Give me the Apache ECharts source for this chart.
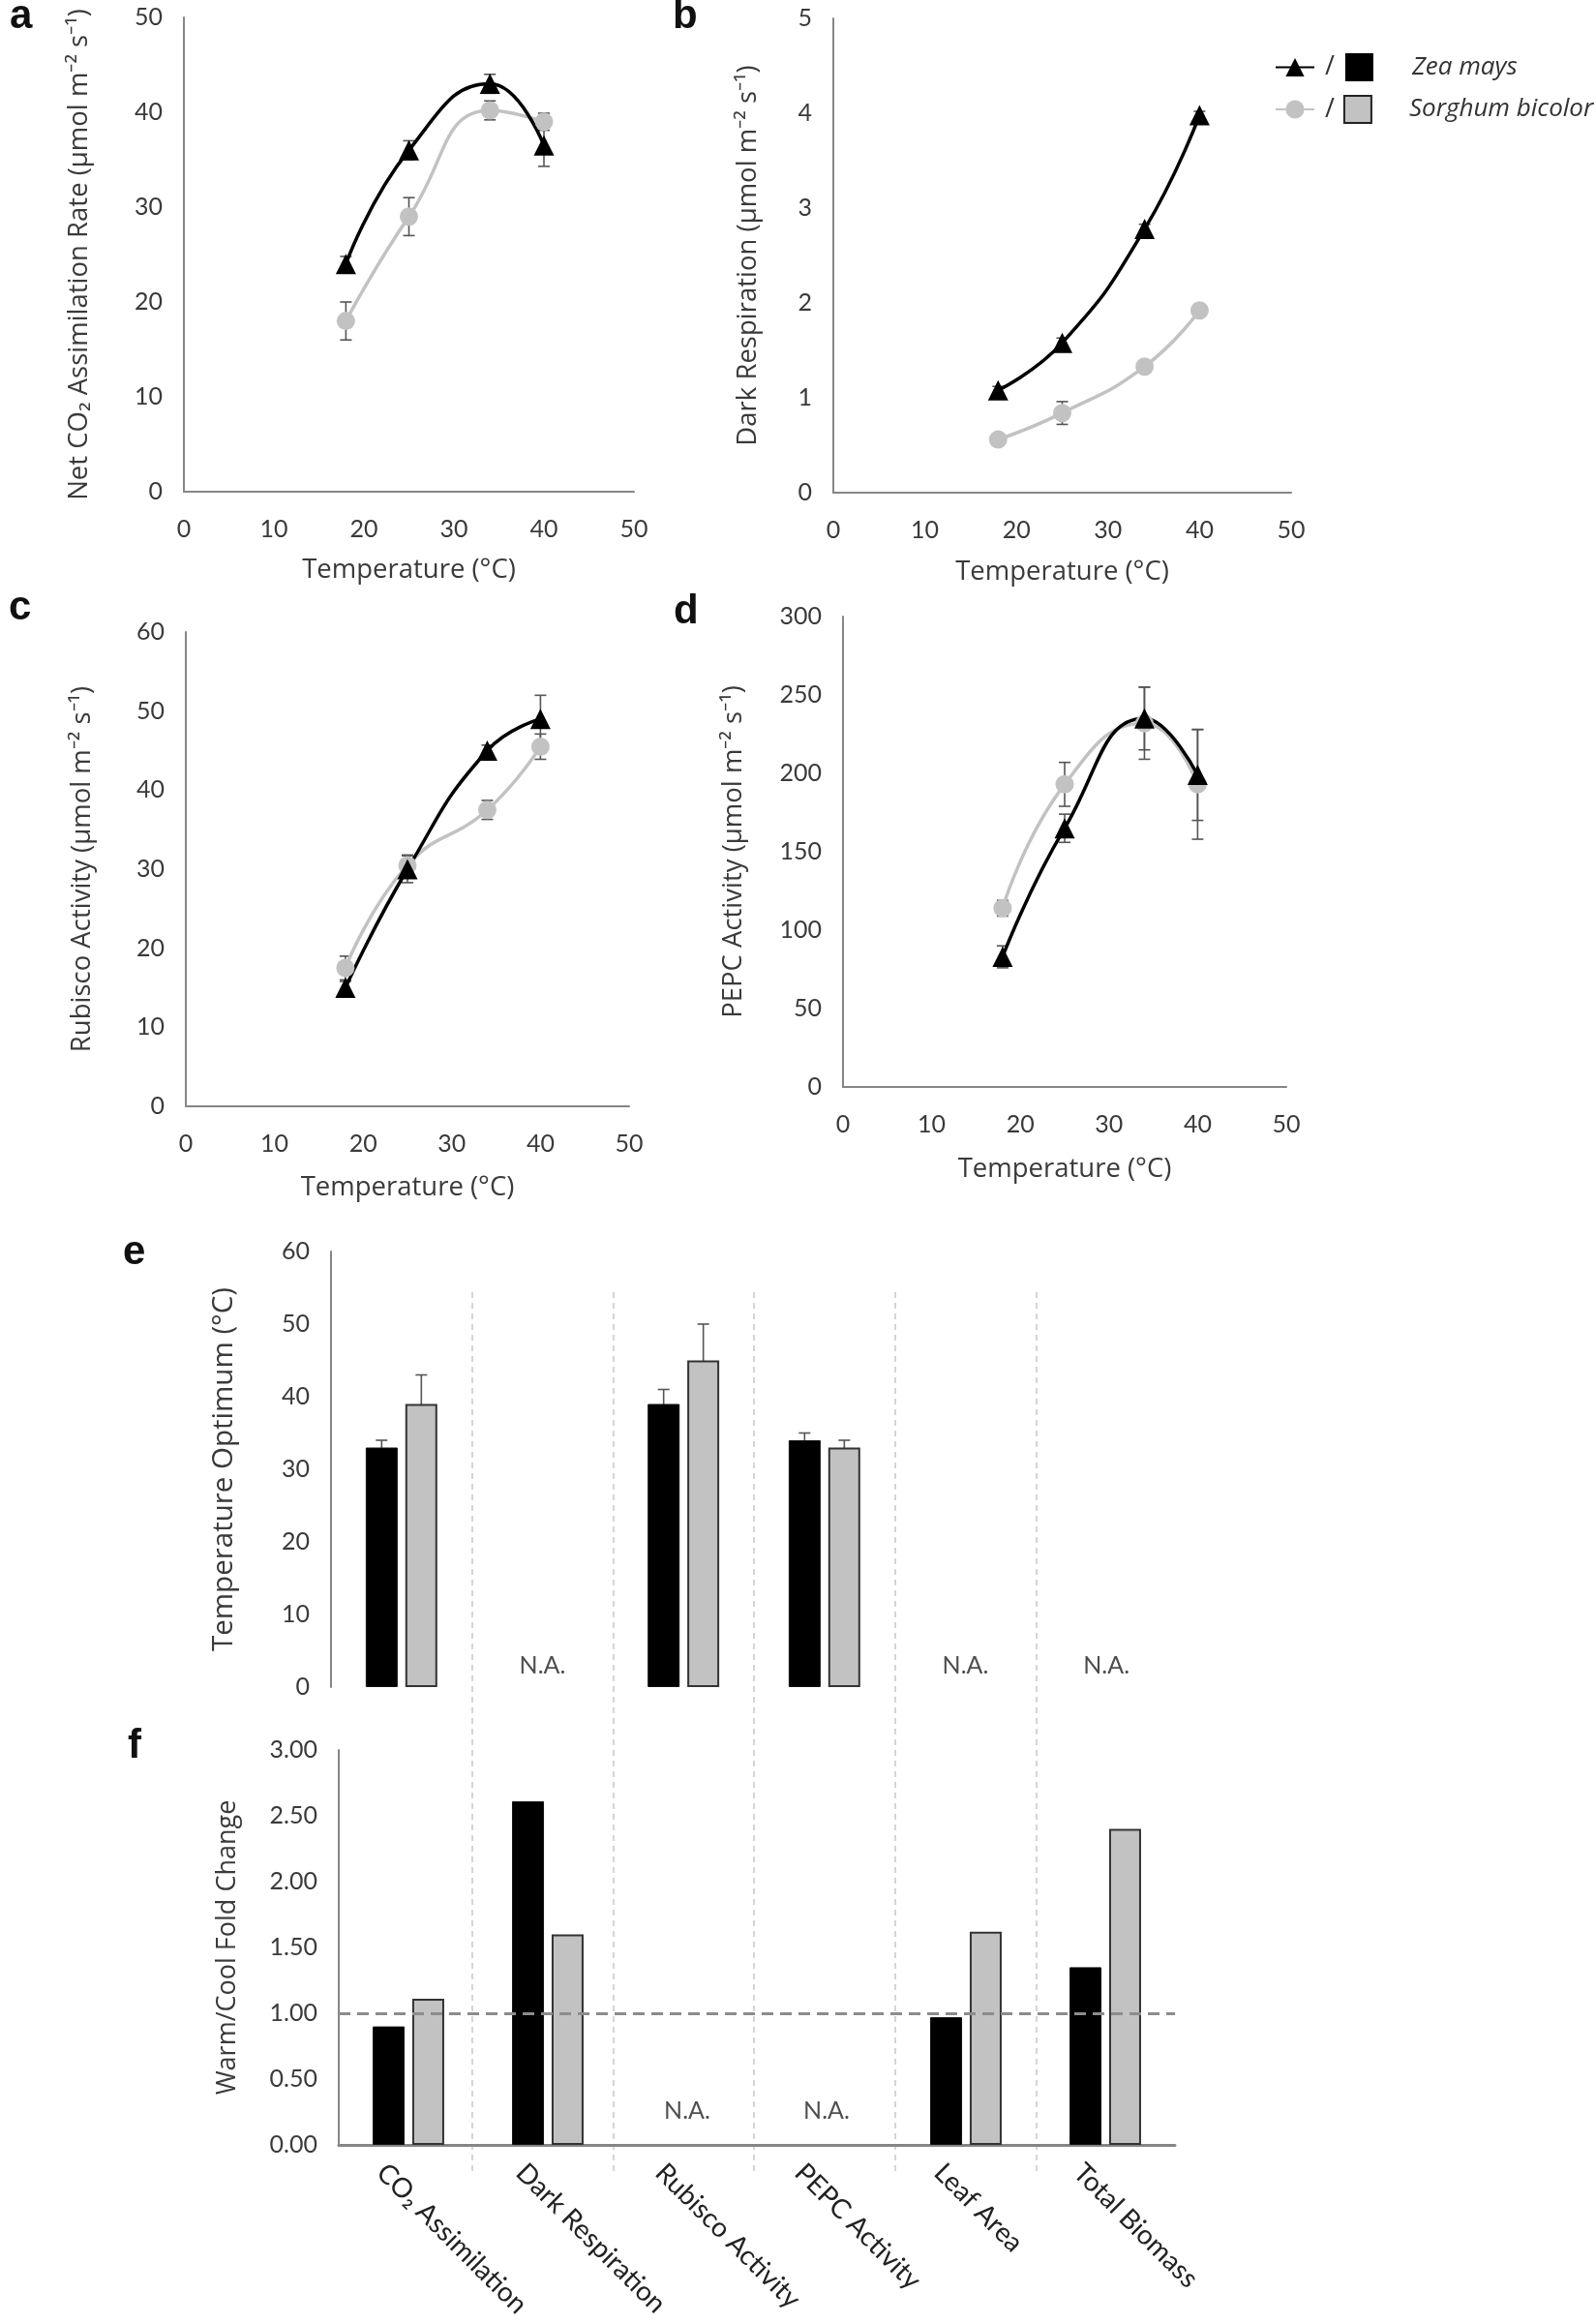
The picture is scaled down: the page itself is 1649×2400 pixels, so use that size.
<!DOCTYPE html>
<html>
<head>
<meta charset="utf-8">
<script src="https://cdn.jsdelivr.net/npm/echarts@6/dist/echarts.min.js"></script>
<style>
  body { margin: 0; background: #fff; }
  #chart { width: 1649px; height: 2400px; }
</style>
</head>
<body>
<div id="chart"></div>
<script>
// temperatures of the four growth points (°C)
var temps = [18, 25, 34, 40];

// a: net CO2 assimilation
var netCO2Zea = [24, 36, 43, 36.5];
var netCO2ZeaErr = [0.8, 1, 1, 2.2];
var netCO2Sor = [18, 29, 40.2, 39];
var netCO2SorErr = [2, 2, 1, 0.9];

// b: dark respiration
var darkZea = [1.08, 1.58, 2.78, 3.98];
var darkZeaErr = [0.04, 0.05, 0.05, 0.04];
var darkSor = [0.56, 0.84, 1.33, 1.92];
var darkSorErr = [0.03, 0.12, 0.04, 0.03];

// c: rubisco activity
var rubiscoZea = [15, 30, 45, 49];
var rubiscoZeaErr = [0.8, 1.7, 0.7, 3];
var rubiscoSor = [17.5, 30.5, 37.5, 45.5];
var rubiscoSorErr = [1.5, 1.3, 1.2, 1.6];

// d: PEPC activity
var pepcZea = [83, 165, 235, 199];
var pepcZeaErr = [7, 9, 20, 29];
var pepcSor = [114, 193, 232, 193];
var pepcSorErr = [5, 14, 23, 35];

// e / f: traits
var traits = ['CO₂ Assimilation', 'Dark Respiration', 'Rubisco Activity', 'PEPC Activity', 'Leaf Area', 'Total Biomass'];
var optZea = [33, null, 39, 34, null, null];
var optZeaErr = [1, null, 2, 1, null, null];
var optSor = [39, null, 45, 33, null, null];
var optSorErr = [4, null, 5, 1, null, null];
var optNA = ['Dark Respiration', 'Leaf Area', 'Total Biomass'];
var optNALevel = 3;

var foldZea = [0.90, 2.61, null, null, 0.97, 1.35];
var foldSor = [1.11, 1.60, null, null, 1.62, 2.40];
var foldNA = ['Rubisco Activity', 'PEPC Activity'];
var foldNALevel = 0.26;
var foldRef = 1;

var BLACK = '#000';
var GREY = '#c2c2c2';
var AXIS = '#868686';
var TXT = '#3a3a3a';
var TICKFONT = 'Lato';
var TITLEFONT = 'Open Sans';

function pairs(xs, ys) {
    var res = [];
    for (var i = 0; i < xs.length; i++) {
        if (ys[i] != null) res.push([xs[i], ys[i]]);
    }
    return res;
}

function triples(xs, ys, es) {
    var res = [];
    for (var i = 0; i < xs.length; i++) {
        if (ys[i] != null) res.push([xs[i], ys[i], es[i]]);
    }
    return res;
}

// error bar drawn through the axis scales, dx shifts it onto a bar
function errRender(dx) {
    return function (params, api) {
        var x = api.value(0), y = api.value(1), e = api.value(2);
        var lo = api.coord([x, y - e]);
        var hi = api.coord([x, y + e]);
        var cx = lo[0] + (dx || 0);
        var w = 6;
        var st = { stroke: '#555', lineWidth: 1.6 };
        return {
            type: 'group',
            children: [
                { type: 'line', shape: { x1: cx, y1: lo[1], x2: cx, y2: hi[1] }, style: st },
                { type: 'line', shape: { x1: cx - w, y1: hi[1], x2: cx + w, y2: hi[1] }, style: st },
                { type: 'line', shape: { x1: cx - w, y1: lo[1], x2: cx + w, y2: lo[1] }, style: st }
            ]
        };
    };
}

function valAxis(grid, min, max, interval, name, gap, extra) {
    var ax = {
        type: 'value', gridIndex: grid, min: min, max: max, interval: interval,
        axisLine: { show: true, lineStyle: { color: AXIS, width: 2 } },
        axisTick: { show: false },
        splitLine: { show: false },
        axisLabel: { color: TXT, fontFamily: TICKFONT, fontSize: 25, margin: 22 },
        name: name, nameLocation: 'middle', nameGap: gap,
        nameTextStyle: { color: TXT, fontFamily: TITLEFONT, fontSize: 27.5 }
    };
    for (var k in extra) ax[k] = extra[k];
    return ax;
}

function tempAxis(grid, gap) {
    return valAxis(grid, 0, 50, 10, 'Temperature (°C)', gap, {
        axisLabel: { color: TXT, fontFamily: TICKFONT, fontSize: 25, margin: 26 }
    });
}

function lineSeries(name, grid, ys, isZea) {
    return {
        name: name, type: 'line', xAxisIndex: grid, yAxisIndex: grid,
        data: pairs(temps, ys), smooth: 0.5, z: 3,
        symbol: isZea ? 'triangle' : 'circle',
        symbolSize: isZea ? 21 : 19,
        itemStyle: { color: isZea ? BLACK : GREY },
        lineStyle: { color: isZea ? BLACK : GREY, width: 3.5 }
    };
}

function errSeries(grid, xs, ys, es, dx) {
    return {
        type: 'custom', xAxisIndex: grid, yAxisIndex: grid, z: 2,
        renderItem: errRender(dx), encode: { x: 0, y: 1 },
        data: triples(xs, ys, es)
    };
}

var catIdx = traits.map(function (t, i) { return i; });

var myChart = echarts.init(document.getElementById('chart'));

var option = {
    backgroundColor: '#fff',
    animation: false,
    grid: [
        { left: 190, top: 18, width: 465, height: 490 },    // a
        { left: 861, top: 19, width: 473, height: 490 },    // b
        { left: 192, top: 653, width: 458, height: 490 },   // c
        { left: 871, top: 637, width: 458, height: 486 },   // d
        { left: 342, top: 1293, width: 874, height: 450 },  // e
        { left: 350, top: 1808, width: 864, height: 408 },  // f
        { left: 342, top: 1335, width: 874, height: 913 },  // separators
        { left: 322, top: 1808, width: 864, height: 408 }   // f category labels
    ],
    xAxis: [
        tempAxis(0, 67),
        tempAxis(1, 68),
        tempAxis(2, 70),
        tempAxis(3, 71),
        {
            type: 'category', gridIndex: 4, data: traits,
            axisLine: { show: false }, axisTick: { show: false }, axisLabel: { show: false }
        },
        {
            type: 'category', gridIndex: 5, data: traits,
            axisLine: { show: true, lineStyle: { color: AXIS, width: 3 } },
            axisTick: { show: false }, axisLabel: { show: false }
        },
        {
            type: 'category', gridIndex: 6, data: traits, boundaryGap: true,
            axisLine: { show: false }, axisTick: { show: false }, axisLabel: { show: false },
            splitLine: {
                show: true, showMinLine: false, showMaxLine: false,
                lineStyle: { color: '#c8c8c8', width: 1.5, type: [6, 5] }
            }
        },
        {
            type: 'category', gridIndex: 7, data: traits,
            axisLine: { show: false }, axisTick: { show: false },
            axisLabel: {
                interval: 0, rotate: -45, color: '#222', fontFamily: TICKFONT, fontSize: 28, margin: 24
            }
        }
    ],
    yAxis: [
        valAxis(0, 0, 50, 10, 'Net CO₂ Assimilation Rate (µmol m⁻² s⁻¹)', 94),
        valAxis(1, 0, 5, 1, 'Dark Respiration (µmol m⁻² s⁻¹)', 74),
        valAxis(2, 0, 60, 10, 'Rubisco Activity (µmol m⁻² s⁻¹)', 93),
        valAxis(3, 0, 300, 50, 'PEPC Activity (µmol m⁻² s⁻¹)', 99),
        valAxis(4, 0, 60, 10, 'Temperature Optimum (°C)', 95, {
            nameTextStyle: { color: TXT, fontFamily: TITLEFONT, fontSize: 29.5 }
        }),
        valAxis(5, 0, 3, 0.5, 'Warm/Cool Fold Change', 101, {
            nameTextStyle: { color: TXT, fontFamily: TITLEFONT, fontSize: 27 },
            axisLabel: {
                color: TXT, fontFamily: TICKFONT, fontSize: 25, margin: 22,
                formatter: function (v) { return v.toFixed(2); }
            }
        }),
        { type: 'value', gridIndex: 6, min: 0, max: 1, show: false },
        { type: 'value', gridIndex: 7, min: 0, max: 1, show: false }
    ],
    legend: {
        data: ['Zea mays', 'Sorghum bicolor'],
        orient: 'vertical', left: 1312, top: 50,
        itemWidth: 40, itemHeight: 24, itemGap: 14,
        formatter: function (name) {
            if (name == 'Zea mays') return '{sl|/}{bz|}{n|Zea mays}';
            return '{sl|/}{bs|}{n|Sorghum bicolor}';
        },
        textStyle: {
            rich: {
                sl: { fontSize: 27, color: '#333', fontFamily: TITLEFONT, padding: [0, 11, 0, 6] },
                bz: { width: 29, height: 29, backgroundColor: BLACK },
                bs: { width: 26, height: 26, backgroundColor: GREY, borderColor: '#222', borderWidth: 2 },
                n: { fontSize: 26, fontStyle: 'italic', color: '#333', fontFamily: TITLEFONT, padding: [0, 0, 0, 40] }
            }
        }
    },
    graphic: [
        { type: 'text', left: 10, top: -4, style: { text: 'a', font: 'bold 42px "Liberation Sans"', fill: '#111' } },
        { type: 'text', left: 695, top: -4, style: { text: 'b', font: 'bold 42px "Liberation Sans"', fill: '#111' } },
        { type: 'text', left: 9, top: 607, style: { text: 'c', font: 'bold 42px "Liberation Sans"', fill: '#111' } },
        { type: 'text', left: 696, top: 611, style: { text: 'd', font: 'bold 42px "Liberation Sans"', fill: '#111' } },
        { type: 'text', left: 127, top: 1273, style: { text: 'e', font: 'bold 42px "Liberation Sans"', fill: '#111' } },
        { type: 'text', left: 132, top: 1783, style: { text: 'f', font: 'bold 42px "Liberation Sans"', fill: '#111' } }
    ],
    series: [
        // a
        errSeries(0, temps, netCO2Zea, netCO2ZeaErr),
        errSeries(0, temps, netCO2Sor, netCO2SorErr),
        lineSeries('Sorghum bicolor', 0, netCO2Sor, false),
        lineSeries('Zea mays', 0, netCO2Zea, true),
        // b
        errSeries(1, temps, darkZea, darkZeaErr),
        errSeries(1, temps, darkSor, darkSorErr),
        lineSeries('Sorghum bicolor', 1, darkSor, false),
        lineSeries('Zea mays', 1, darkZea, true),
        // c
        errSeries(2, temps, rubiscoZea, rubiscoZeaErr),
        errSeries(2, temps, rubiscoSor, rubiscoSorErr),
        lineSeries('Sorghum bicolor', 2, rubiscoSor, false),
        lineSeries('Zea mays', 2, rubiscoZea, true),
        // d
        errSeries(3, temps, pepcZea, pepcZeaErr),
        errSeries(3, temps, pepcSor, pepcSorErr),
        lineSeries('Sorghum bicolor', 3, pepcSor, false),
        lineSeries('Zea mays', 3, pepcZea, true),
        // e
        {
            name: 'Zea mays', type: 'bar', xAxisIndex: 4, yAxisIndex: 4, data: optZea,
            barWidth: 33, barGap: '24%',
            itemStyle: { color: BLACK, borderColor: '#111', borderWidth: 1 }
        },
        {
            name: 'Sorghum bicolor', type: 'bar', xAxisIndex: 4, yAxisIndex: 4, data: optSor,
            barWidth: 33, barGap: '24%',
            itemStyle: { color: GREY, borderColor: '#333', borderWidth: 2 }
        },
        errSeries(4, catIdx, optZea, optZeaErr, -20.5),
        errSeries(4, catIdx, optSor, optSorErr, 20.5),
        {
            type: 'scatter', xAxisIndex: 4, yAxisIndex: 4, symbolSize: 0,
            data: optNA.map(function (t) { return [t, optNALevel]; }),
            label: { show: true, position: 'inside', formatter: 'N.A.', color: '#222', fontFamily: TICKFONT, fontSize: 25 }
        },
        // f
        {
            name: 'Zea mays', type: 'bar', xAxisIndex: 5, yAxisIndex: 5, data: foldZea,
            barWidth: 33, barGap: '24%',
            itemStyle: { color: BLACK, borderColor: '#111', borderWidth: 1 },
            markLine: {
                silent: true, symbol: 'none', label: { show: false },
                lineStyle: { color: '#8c8c8c', width: 3, type: [12, 7] },
                data: [{ yAxis: foldRef }]
            }
        },
        {
            name: 'Sorghum bicolor', type: 'bar', xAxisIndex: 5, yAxisIndex: 5, data: foldSor,
            barWidth: 33, barGap: '24%',
            itemStyle: { color: GREY, borderColor: '#333', borderWidth: 2 }
        },
        {
            type: 'scatter', xAxisIndex: 5, yAxisIndex: 5, symbolSize: 0,
            data: foldNA.map(function (t) { return [t, foldNALevel]; }),
            label: { show: true, position: 'inside', formatter: 'N.A.', color: '#222', fontFamily: TICKFONT, fontSize: 25 }
        }
    ]
};

myChart.setOption(option);
</script>
</body>
</html>
